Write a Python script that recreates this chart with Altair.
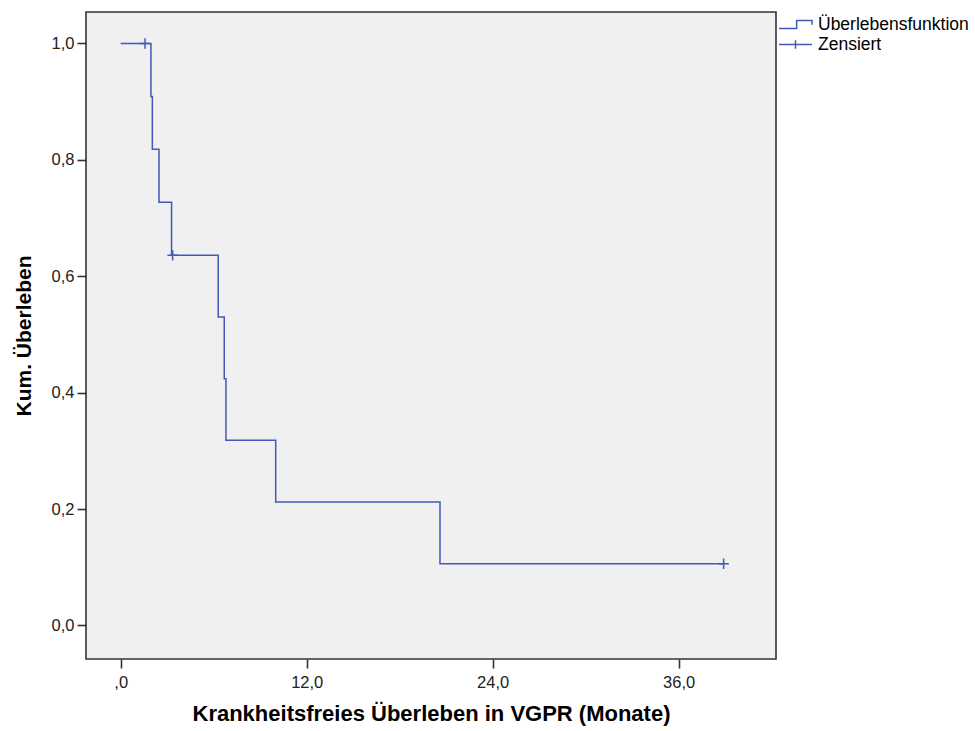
import altair as alt
import pandas as pd

# Kaplan-Meier step curve (event times in months, cumulative survival after each step)
step_time = [0.0, 1.95, 2.04, 2.47, 3.28, 6.29, 6.68, 6.79, 10.0, 20.6, 38.9]
step_surv = [1.0, 0.909, 0.818, 0.727, 0.636, 0.530, 0.424, 0.318, 0.212, 0.106, 0.106]

# censored observations
cens_time = [1.57, 3.35, 38.9]
cens_surv = [1.0, 0.636, 0.106]

legend_names = ["Überlebensfunktion", "Zensiert"]
x_ticks = [0, 12, 24, 36]
y_ticks = [0.0, 0.2, 0.4, 0.6, 0.8, 1.0]

BLUE = "#4259b8"
FONT = "Liberation Sans"

STEP_PATH = "M-1,0.24H0.07V-0.24H1V0.02"
PLUS_PATH = "M-1,0H1M0,-1V1"
LEGEND_PLUS = "M-1,0H1M0,-0.26V0.26"

curve = pd.DataFrame({"t": step_time, "s": step_surv})
cens = pd.DataFrame({"t": cens_time, "s": cens_surv, "serie": ["Zensiert"] * len(cens_time)})

x_scale = alt.Scale(domain=[-2.24, 42.28], nice=False, zero=False)
y_scale = alt.Scale(domain=[-0.0577, 1.054], nice=False, zero=False)

x_axis = alt.Axis(
    title="Krankheitsfreies Überleben in VGPR (Monate)",
    values=x_ticks,
    labelExpr="datum.value == 0 ? ',0' : replace(format(datum.value, '.1f'), '.', ',')",
)
y_axis = alt.Axis(
    title="Kum. Überleben",
    values=y_ticks,
    labelExpr="replace(format(datum.value, '.1f'), '.', ',')",
)

line = alt.Chart(curve).mark_line(
    interpolate="step-after", color=BLUE, strokeWidth=1.5
).encode(
    x=alt.X("t:Q", scale=x_scale, axis=x_axis),
    y=alt.Y("s:Q", scale=y_scale, axis=y_axis),
)

# visible censoring ticks
marks = alt.Chart(cens).mark_point(
    shape=PLUS_PATH, filled=False, size=110, strokeWidth=1.5, color=BLUE, opacity=1
).encode(
    x=alt.X("t:Q", scale=x_scale),
    y=alt.Y("s:Q", scale=y_scale),
)

# legend carrier: same points, transparent, with the legend's own symbols
legend_layer = alt.Chart(cens).mark_point(
    filled=False, strokeWidth=1.5, color=BLUE, opacity=0
).encode(
    x=alt.X("t:Q", scale=x_scale),
    y=alt.Y("s:Q", scale=y_scale),
    shape=alt.Shape(
        "serie:N",
        scale=alt.Scale(domain=legend_names, range=[STEP_PATH, LEGEND_PLUS]),
        legend=alt.Legend(
            title=None,
            orient="none",
            legendX=692,
            legendY=4,
            padding=0,
            symbolSize=1089,
            clipHeight=17,
            rowPadding=2,
            labelOffset=5,
            labelFont=FONT,
            labelFontSize=17.5,
            labelColor="#000000",
            symbolStrokeColor=BLUE,
            symbolStrokeWidth=1.5,
            symbolFillColor="transparent",
            symbolOpacity=1,
        ),
    ),
)

chart = (
    alt.layer(line, marks, legend_layer)
    .properties(
        width=690,
        height=647,
        autosize=alt.AutoSizeParams(type="none"),
        padding={"left": 86, "top": 12, "right": 199, "bottom": 72},
        background="#ffffff",
    )
    .configure_view(fill="#f0f0f0", stroke="#333333", strokeWidth=1.6)
    .configure_axis(
        domain=False,
        grid=False,
        tickSize=9,
        tickColor="#333333",
        tickWidth=1.6,
        labelFont=FONT,
        labelFontSize=16.5,
        labelColor="#222222",
        titleFont=FONT,
        titleFontWeight="bold",
        titleColor="#000000",
    )
    .configure_axisX(labelPadding=6, titleFontSize=22, titlePadding=13)
    .configure_axisY(labelPadding=3, titleFontSize=21, titlePadding=17)
)

chart.save("out.html", embed_options={"renderer": "svg", "actions": False})
